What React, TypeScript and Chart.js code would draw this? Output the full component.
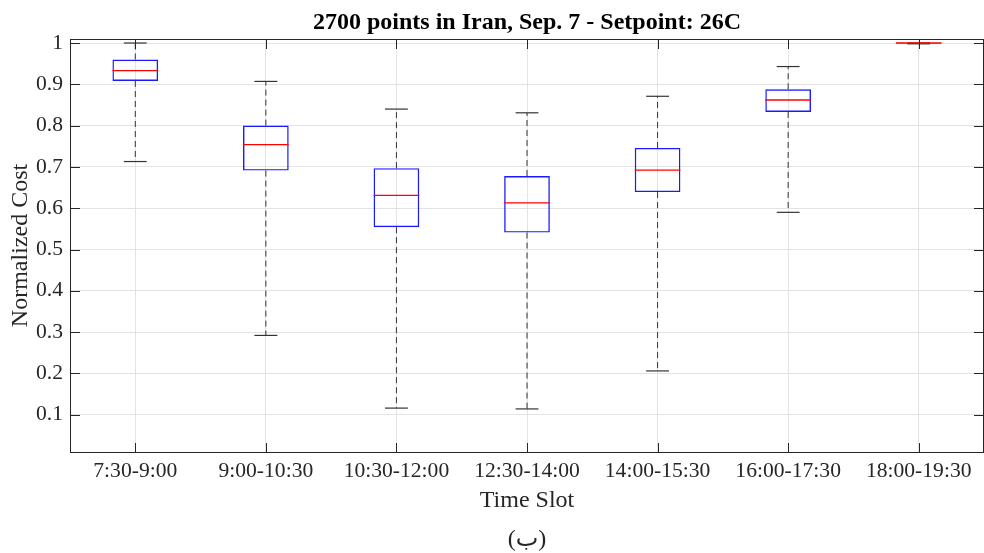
import React, { useEffect, useRef } from "react";
import { Chart, registerables } from "chart.js";

Chart.register(...registerables);

const categories = ["7:30-9:00", "9:00-10:30", "10:30-12:00", "12:30-14:00", "14:00-15:30", "16:00-17:30", "18:00-19:30"];
const whiskerLow = [0.713, 0.292, 0.116, 0.114, 0.206, 0.590, 0.998];
const q1 = [0.908, 0.691, 0.554, 0.541, 0.639, 0.833, 0.999];
const median = [0.933, 0.754, 0.631, 0.613, 0.692, 0.862, 1.0];
const q3 = [0.960, 0.800, 0.697, 0.678, 0.746, 0.888, 1.0];
const whiskerHigh = [1.0, 0.907, 0.840, 0.831, 0.871, 0.943, 1.0];
const yTickValues = [0.1, 0.2, 0.3, 0.4, 0.5, 0.6, 0.7, 0.8, 0.9, 1.0];
const yMin = 0.0097;
const yMax = 1.0097;

const titleText = "2700 points in Iran, Sep. 7 - Setpoint: 26C";
const yTitle = "Normalized Cost";
const xTitle = "Time Slot";
const captionText = "(ب)";

const SERIF = '"Liberation Serif", "Times New Roman", "DejaVu Sans", serif';
const AXIS = "#262626";

const boxPlugin = {
  id: "boxExtras",
  afterDatasetsDraw(chart: any) {
    const { ctx, scales } = chart;
    const x = scales.x;
    const y = scales.y;
    const meta = chart.getDatasetMeta(0);
    ctx.save();
    const seg = (x1: number, y1: number, x2: number, y2: number) => {
      ctx.beginPath();
      ctx.moveTo(x1, y1);
      ctx.lineTo(x2, y2);
      ctx.stroke();
    };
    categories.forEach((_, i) => {
      const bar = meta.data[i];
      const cx = x.getPixelForValue(i);
      const hw = bar.width / 2;
      const cap = hw / 2;
      ctx.strokeStyle = "#333333";
      ctx.lineWidth = 1;
      ctx.setLineDash([6, 4]);
      seg(cx, y.getPixelForValue(q3[i]), cx, y.getPixelForValue(whiskerHigh[i]));
      seg(cx, y.getPixelForValue(q1[i]), cx, y.getPixelForValue(whiskerLow[i]));
      ctx.setLineDash([]);
      ctx.lineWidth = 1.2;
      seg(cx - cap, y.getPixelForValue(whiskerHigh[i]), cx + cap, y.getPixelForValue(whiskerHigh[i]));
      seg(cx - cap, y.getPixelForValue(whiskerLow[i]), cx + cap, y.getPixelForValue(whiskerLow[i]));
      ctx.strokeStyle = "#ff0000";
      ctx.lineWidth = 1.3;
      seg(cx - hw, y.getPixelForValue(median[i]), cx + hw, y.getPixelForValue(median[i]));
    });
    ctx.restore();
  },
  afterDraw(chart: any) {
    const { ctx, chartArea: a, scales } = chart;
    const x = scales.x;
    const y = scales.y;
    ctx.save();
    ctx.strokeStyle = AXIS;
    ctx.lineWidth = 1;
    const L = Math.round(a.left) + 0.5;
    const R = Math.round(a.right) - 0.5;
    const T = Math.round(a.top) + 0.5;
    const B = Math.round(a.bottom) + 0.5;
    ctx.strokeRect(L, T, R - L, B - T);
    const tl = 9.5;
    ctx.beginPath();
    y.ticks.forEach((t: any) => {
      const py = Math.round(y.getPixelForValue(t.value)) + 0.5;
      ctx.moveTo(L, py);
      ctx.lineTo(L + tl, py);
      ctx.moveTo(R, py);
      ctx.lineTo(R - tl, py);
    });
    x.ticks.forEach((_: any, i: number) => {
      const px = Math.round(x.getPixelForValue(i)) + 0.5;
      ctx.moveTo(px, B);
      ctx.lineTo(px, B - tl);
      ctx.moveTo(px, T);
      ctx.lineTo(px, T + tl);
    });
    ctx.stroke();

    const cx = (a.left + a.right) / 2;
    ctx.textAlign = "center";
    ctx.textBaseline = "alphabetic";
    ctx.fillStyle = "#000000";
    ctx.font = `bold 24px ${SERIF}`;
    ctx.fillText(titleText, cx, 29);

    ctx.fillStyle = AXIS;
    ctx.font = `24px ${SERIF}`;
    ctx.fillText(xTitle, cx, 507);
    ctx.fillText(captionText, cx, 546);

    ctx.translate(27, (a.top + a.bottom) / 2);
    ctx.rotate(-Math.PI / 2);
    ctx.fillText(yTitle, 0, 0);
    ctx.restore();
  },
};

export default function App() {
  const ref = useRef<HTMLCanvasElement | null>(null);
  useEffect(() => {
    if (!ref.current) return;
    const chart = new Chart(ref.current, {
      type: "bar",
      data: {
        labels: categories,
        datasets: [
          {
            data: categories.map((_, i) => [q1[i], q3[i]]) as any,
            backgroundColor: "rgba(0,0,0,0)",
            borderColor: "#1a1aff",
            borderWidth: 1.4,
            borderSkipped: false,
            barPercentage: 0.35,
            categoryPercentage: 1,
          },
        ],
      },
      options: {
        responsive: false,
        animation: false,
        layout: { padding: { top: 39, left: 0, right: 0, bottom: 0 } },
        plugins: { legend: { display: false }, tooltip: { enabled: false }, title: { display: false } },
        scales: {
          x: {
            type: "category",
            offset: true,
            grid: { display: true, offset: false, color: "#e3e3e3", drawTicks: false },
            border: { display: false },
            ticks: { color: AXIS, font: { family: SERIF, size: 21.6 }, padding: 6, maxRotation: 0, autoSkip: false },
            afterFit: (s: any) => {
              s.height = 101;
            },
          },
          y: {
            type: "linear",
            min: yMin,
            max: yMax,
            grid: { color: "#e3e3e3", drawTicks: false },
            border: { display: false },
            afterBuildTicks: (s: any) => {
              s.ticks = yTickValues.map((v) => ({ value: v }));
            },
            ticks: {
              color: AXIS,
              font: { family: SERIF, size: 21.6 },
              padding: 7,
              callback: (v: any) => String(Number(Number(v).toFixed(2))),
            },
            afterFit: (s: any) => {
              s.width = 70;
            },
          },
        },
      },
      plugins: [boxPlugin],
    });
    return () => chart.destroy();
  }, []);
  return (
    <div style={{ position: "absolute", left: 0, top: 0, width: 984, height: 553, background: "#fff" }}>
      <canvas ref={ref} width={984} height={553} style={{ display: "block" }} />
    </div>
  );
}
